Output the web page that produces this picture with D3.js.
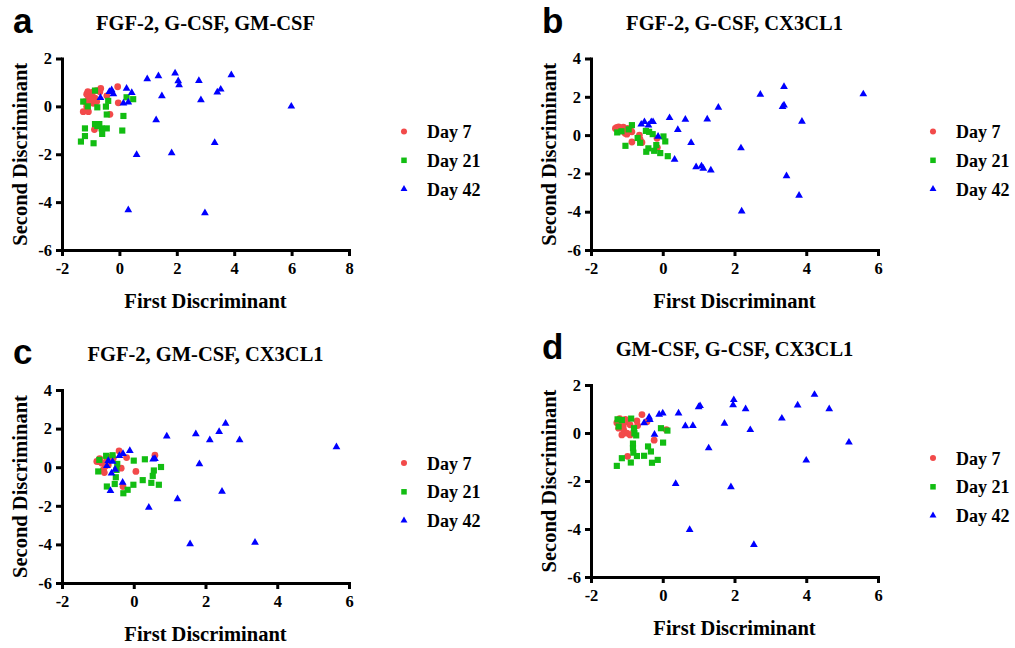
<!DOCTYPE html>
<html>
<head>
<meta charset="utf-8">
<script src="https://cdn.jsdelivr.net/npm/d3@7"></script>
<style>
  html, body { margin: 0; padding: 0; background: #fff; }
  svg { display: block; }
</style>
</head>
<body>
<svg id="fig" width="1015" height="648"></svg>
<script>
// ---- data: discriminant scores per panel and day ----
const panelLetters = ["a", "b", "c", "d"];
const panelTitles = [
  "FGF-2, G-CSF, GM-CSF",
  "FGF-2, G-CSF, CX3CL1",
  "FGF-2, GM-CSF, CX3CL1",
  "GM-CSF, G-CSF, CX3CL1"
];
const seriesNames = ["Day 7", "Day 21", "Day 42"];
const xAxisTitle = "First Discriminant";
const yAxisTitle = "Second Discriminant";

const xTicksA = [-2, 0, 2, 4, 6, 8];
const yTicksA = [-6, -4, -2, 0, 2];
const xTicksB = [-2, 0, 2, 4, 6];
const yTicksB = [-6, -4, -2, 0, 2, 4];
const xTicksC = [-2, 0, 2, 4, 6];
const yTicksC = [-6, -4, -2, 0, 2, 4];
const xTicksD = [-2, 0, 2, 4, 6];
const yTicksD = [-6, -4, -2, 0, 2];

const aDay7 = [[-0.06,0.82],[-0.65,0.75],[-0.91,0.61],[-1.02,0.55],[-1.14,0.51],[-0.97,0.48],[-1.08,0.40],
  [-0.85,0.34],[-1.20,0.20],[-1.02,0.20],[-0.79,0.20],[-0.91,0.13],[-1.14,-0.01],[-1.26,-0.22],[-1.08,-0.22],
  [-0.68,0.61],[-0.44,0.44],[-0.04,0.15],[-0.33,-0.33],[-0.87,-0.97],[-0.80,0.66],[-1.00,0.33],[-1.10,0.62],[-0.95,0.27]];
const aDay21 = [[-1.26,0.20],[-0.77,-0.04],[-0.47,-0.01],[-0.39,0.23],[0.25,0.38],[0.48,0.30],[-0.44,-0.34],
  [0.14,-0.40],[-0.85,-0.74],[-0.70,-0.74],[-0.62,-0.92],[-0.44,-0.92],[-0.60,-1.15],[0.10,-1.01],[-1.20,-0.92],
  [-1.20,-1.24],[-1.34,-1.47],[-0.90,-1.54],[-0.85,0.66],[-1.10,0.00],[-0.77,-0.82]];
const aDay42 = [[0.97,1.14],[1.36,1.27],[1.94,1.38],[2.05,1.06],[2.08,0.89],[2.77,1.07],[3.90,1.31],[3.53,0.71],
  [3.41,0.59],[5.99,0.00],[1.48,0.43],[2.84,0.27],[1.28,-0.57],[3.32,-1.52],[0.60,-2.02],[1.82,-1.95],
  [0.31,-4.33],[2.98,-4.45],[0.25,0.75],[0.43,0.57],[0.14,0.13],[0.31,0.17],[-0.35,0.61],[-0.27,0.68],
  [-0.21,0.52],[-0.66,0.36]];

const bDay7 = [[-1.32,0.35],[-1.23,0.43],[-1.14,0.35],[-1.04,0.26],[-0.95,0.17],[-0.86,0.17],[-1.18,0.22],
  [-1.00,0.05],[-1.28,0.40],[-1.10,0.42],[-0.98,0.35],[-0.90,0.28],[-0.65,0.00],[-0.63,-0.23],[-0.58,-0.38],
  [-0.86,-0.36],[-0.16,-0.17],[-0.15,-0.65],[-1.20,0.30],[-1.05,0.10]];
const bDay21 = [[-0.86,0.52],[-1.27,0.14],[-1.04,-0.56],[-0.47,0.22],[-0.38,0.17],[-0.28,0.05],[-0.63,-0.40],
  [-0.40,-0.69],[-0.46,-0.87],[-0.24,-0.82],[-0.07,-0.94],[0.14,-1.10],[0.02,-0.07],[0.07,-0.33],[-0.18,-0.52],
  [-0.70,-0.15],[-1.15,0.20],[-0.95,0.30]];
const bDay42 = [[3.38,2.52],[2.72,2.12],[5.59,2.14],[3.34,1.48],[3.38,1.56],[1.55,1.44],[3.88,0.71],[0.19,0.90],
  [0.63,0.82],[1.24,0.83],[0.42,0.28],[0.79,-0.40],[2.18,-0.68],[0.33,-1.27],[0.93,-1.67],[1.08,-1.62],
  [1.13,-1.74],[1.34,-1.83],[3.45,-2.14],[3.80,-3.15],[2.20,-3.98],[-0.60,0.56],[-0.51,0.69],[-0.40,0.52],
  [-0.32,0.69],[-0.27,0.69],[-0.13,-0.07]];

const cDay7 = [[-0.94,0.38],[-0.89,0.21],[-0.80,0.03],[-0.85,-0.14],[-0.71,0.12],[-0.99,0.29],[-1.03,0.30],
  [-0.41,0.84],[-0.20,0.50],[0.59,0.62],[-0.35,-0.05],[0.06,-0.22],[-0.30,-1.00],[-0.62,0.55],[-0.57,0.47],
  [-0.82,-0.28],[-0.95,0.45],[-0.75,0.35]];
const cDay21 = [[-0.99,-0.22],[-0.75,-1.00],[-0.53,-0.87],[-0.50,-0.52],[-0.29,-1.35],[-0.17,-1.17],[-0.01,-0.91],
  [0.25,-0.67],[0.49,-0.81],[0.70,-0.91],[0.00,0.34],[0.31,0.41],[0.53,-0.45],[0.56,-0.17],[0.76,0.01],
  [-0.96,0.38],[-0.77,0.59],[-0.59,0.62],[-0.48,-0.14],[-0.46,0.17]];
const cDay42 = [[2.56,2.26],[2.38,1.84],[1.73,1.72],[0.92,1.60],[2.12,1.41],[2.95,1.41],[5.65,1.05],[1.83,0.17],
  [2.46,-1.26],[1.22,-1.65],[0.42,-2.09],[1.57,-3.98],[3.38,-3.90],[-0.11,0.85],[-0.30,0.70],[-0.40,0.59],
  [0.59,0.44],[0.54,0.41],[-0.71,0.34],[-0.59,0.29],[-0.52,-0.12],[-0.62,-0.31],[-0.31,-0.79],[-0.65,-1.22],
  [-0.75,0.07]];

const dDay7 = [[-0.58,0.77],[-1.18,0.54],[-1.04,0.57],[-1.28,0.43],[-1.14,0.41],[-1.00,0.47],[-0.91,0.34],
  [-0.72,0.50],[-0.70,0.31],[-1.23,0.20],[-1.09,0.13],[-1.00,-0.01],[-1.14,-0.08],[-0.91,-0.08],[-0.81,0.06],
  [-0.44,0.47],[0.10,0.14],[-0.24,-0.30],[-0.98,-0.97],[-1.20,0.60],[-1.10,0.30]];
const dDay21 = [[-1.28,-1.37],[-1.14,-1.05],[-0.89,-1.23],[-0.83,-0.44],[-0.83,-0.63],[-0.82,-0.82],[-0.72,-0.96],
  [-0.52,-0.95],[-0.41,-0.56],[-0.33,-0.77],[-0.30,-1.24],[-0.14,-1.12],[-0.05,0.20],[0.13,0.10],[0.01,-0.40],
  [-0.80,0.20],[-0.79,-0.01],[-0.74,-0.10],[-1.23,0.27],[-1.14,0.54],[-0.88,0.60],[-1.26,0.57]];
const dDay42 = [[4.23,1.60],[1.98,1.38],[1.96,1.17],[1.00,1.08],[1.04,1.13],[2.31,1.00],[3.76,1.16],[4.64,1.00],
  [3.32,0.61],[1.72,0.40],[2.44,0.13],[0.63,0.29],[0.84,0.30],[0.44,0.82],[0.00,0.82],[-0.10,0.77],[-0.38,0.66],
  [-0.36,0.55],[-0.52,0.42],[-0.23,-0.06],[1.28,-0.63],[5.19,-0.39],[4.00,-1.14],[0.36,-2.11],[1.90,-2.25],
  [0.75,-4.03],[2.54,-4.66]];

// ---- panel assembly ----
const panelSeries = [
  [aDay7, aDay21, aDay42],
  [bDay7, bDay21, bDay42],
  [cDay7, cDay21, cDay42],
  [dDay7, dDay21, dDay42]
];
const panelXTicks = [xTicksA, xTicksB, xTicksC, xTicksD];
const panelYTicks = [yTicksA, yTicksB, yTicksC, yTicksD];

// plot-area frames (pixels) for the four panels
const frames = [
  { left: 62,  right: 349, top: 58.5, bottom: 250 },
  { left: 591, right: 878, top: 58.5, bottom: 250 },
  { left: 62,  right: 349, top: 390,  bottom: 583 },
  { left: 591, right: 878, top: 385,  bottom: 577 }
];

const colors = ["#f24a4a", "#12bd12", "#0000ff"];
const shapes = [d3.symbolCircle, d3.symbolSquare, d3.symbolTriangle];
const shapeSizes = [36, 38, 26];

const SERIF = '"Liberation Serif", "Times New Roman", serif';
const SANS = '"Liberation Sans", Arial, sans-serif';

const svg = d3.select("#fig");
const fmt = d => String(d);

// bold serif text helper
function label(sel, size) {
  return sel.style("font-family", SERIF).style("font-weight", "bold")
    .style("font-size", size + "px").attr("fill", "#000");
}

panelSeries.forEach((series, i) => {
  const f = frames[i];
  const xt = panelXTicks[i], yt = panelYTicks[i];
  const x = d3.scaleLinear().domain([xt[0], xt[xt.length - 1]]).range([f.left, f.right]);
  const y = d3.scaleLinear().domain([yt[0], yt[yt.length - 1]]).range([f.bottom, f.top]);
  const g = svg.append("g");

  // panel letter and title
  g.append("text")
    .attr("x", f.left - 49).attr("y", f.top - 26)
    .style("font-family", SANS).style("font-weight", "bold").style("font-size", "35px")
    .text(panelLetters[i]);
  label(g.append("text"), 20.5)
    .attr("x", (f.left + f.right) / 2).attr("y", f.top - 29)
    .attr("text-anchor", "middle").text(panelTitles[i]);

  // axes
  const xAxis = g.append("g").attr("transform", `translate(0,${f.bottom})`)
    .call(d3.axisBottom(x).tickValues(xt).tickFormat(fmt).tickSize(6).tickSizeOuter(0).tickPadding(6));
  const yAxis = g.append("g").attr("transform", `translate(${f.left},0)`)
    .call(d3.axisLeft(y).tickValues(yt).tickFormat(fmt).tickSize(6).tickSizeOuter(0).tickPadding(4));
  [xAxis, yAxis].forEach(ax => {
    ax.attr("font-family", null).attr("font-size", null);
    ax.select(".domain").attr("stroke", "#000").attr("stroke-width", 3).attr("stroke-linecap", "square");
    ax.selectAll(".tick line").attr("stroke", "#000").attr("stroke-width", 3);
    label(ax.selectAll(".tick text"), 16.5);
  });

  // axis titles
  label(g.append("text"), 20.5)
    .attr("x", (f.left + f.right) / 2).attr("y", f.bottom + 58)
    .attr("text-anchor", "middle").text(xAxisTitle);
  label(g.append("text"), 20.5)
    .attr("transform", `translate(${f.left - 35},${(f.top + f.bottom) / 2}) rotate(-90)`)
    .attr("text-anchor", "middle").text(yAxisTitle);

  // scatter marks
  series.forEach((pts, s) => {
    g.append("g").selectAll("path").data(pts).join("path")
      .attr("d", d3.symbol().type(shapes[s]).size(shapeSizes[s]))
      .attr("transform", d => `translate(${x(d[0])},${y(d[1])})`)
      .attr("fill", colors[s]);
  });

  // legend
  const lx = f.right + 55, ly = f.top + 73;
  seriesNames.forEach((name, s) => {
    const row = g.append("g").attr("transform", `translate(${lx},${ly + s * 28.8})`);
    row.append("path").attr("d", d3.symbol().type(shapes[s]).size(shapeSizes[s] * 0.8)).attr("fill", colors[s]);
    label(row.append("text"), 18).attr("x", 23).attr("y", 6.5).text(name);
  });
});
</script>
</body>
</html>
